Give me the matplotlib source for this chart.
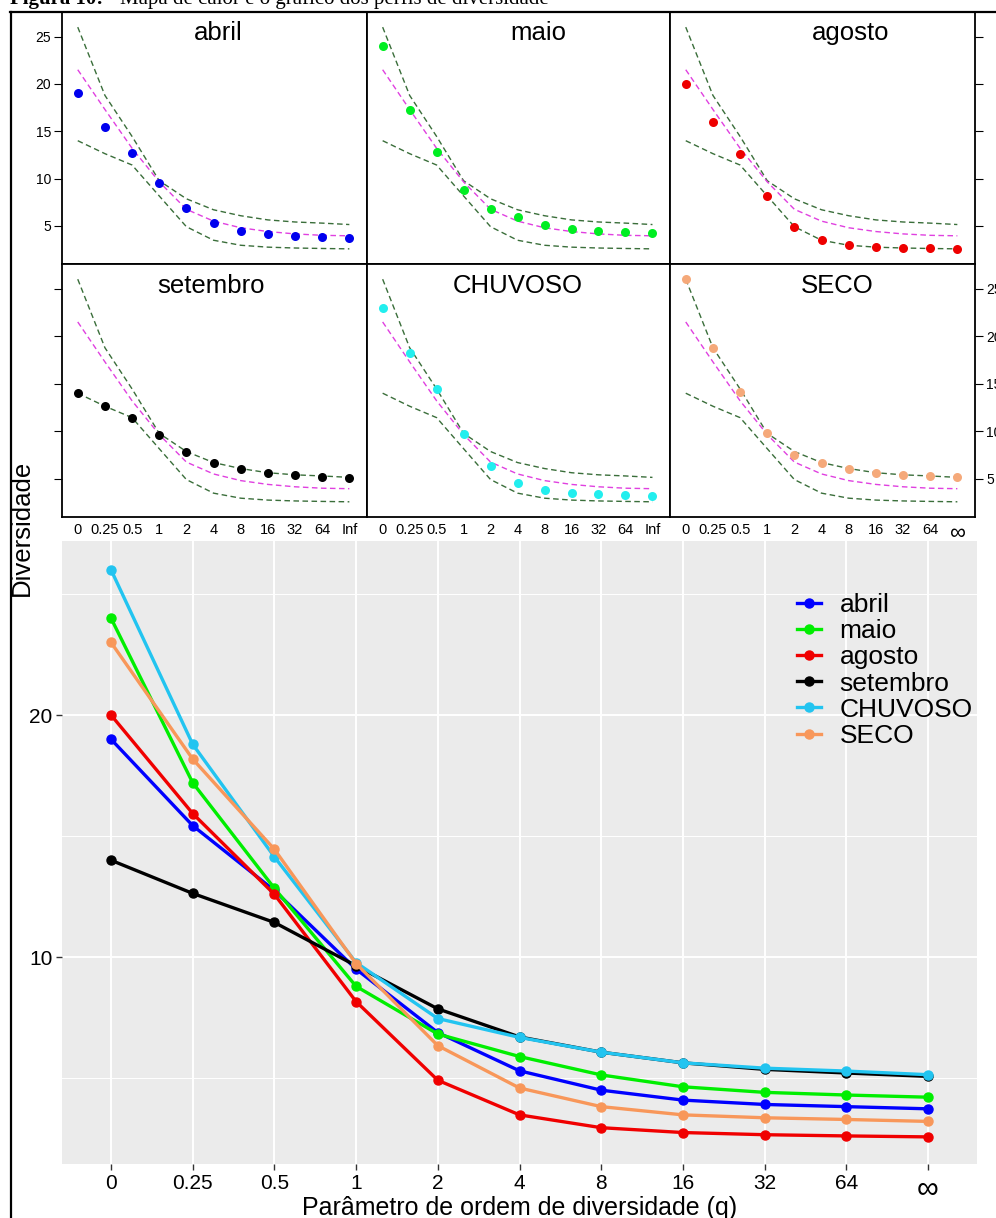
import matplotlib
matplotlib.use("Agg")
import matplotlib.pyplot as plt
from matplotlib.lines import Line2D

W, H = 996, 1218

q_labels = ["0", "0.25", "0.5", "1", "2", "4", "8", "16", "32", "64", "Inf"]
q_labels_inf = ["0", "0.25", "0.5", "1", "2", "4", "8", "16", "32", "64", "\u221e"]

abril = [19.0, 15.43, 12.75, 9.50, 6.88, 5.30, 4.50, 4.09, 3.91, 3.82, 3.73]
maio = [24.0, 17.20, 12.84, 8.79, 6.82, 5.89, 5.13, 4.64, 4.41, 4.30, 4.21]
agosto = [20.0, 15.93, 12.59, 8.16, 4.91, 3.48, 2.95, 2.75, 2.66, 2.61, 2.57]
setembro = [14.0, 12.63, 11.43, 9.64, 7.86, 6.70, 6.07, 5.63, 5.36, 5.21, 5.07]
chuvoso = [26.0, 18.79, 14.14, 9.77, 7.46, 6.68, 6.07, 5.63, 5.41, 5.29, 5.14]
seco = [23.0, 18.18, 14.45, 9.73, 6.34, 4.59, 3.82, 3.48, 3.36, 3.29, 3.21]

# linhas tracejadas dos paineis (envelope e linha magenta)
env_sup = [26.0, 18.79, 14.45, 9.77, 7.86, 6.70, 6.07, 5.63, 5.41, 5.29, 5.14]
env_inf = [14.0, 12.63, 11.43, 8.16, 4.91, 3.48, 2.95, 2.75, 2.66, 2.61, 2.57]
magenta = [21.5, 17.3, 13.2, 9.65, 6.75, 5.5, 4.8, 4.4, 4.15, 4.0, 3.95]

nomes = ["abril", "maio", "agosto", "setembro", "CHUVOSO", "SECO"]
cores_gg = ["#0000FF", "#00EE00", "#F00000", "#000000", "#22C4F0", "#F8975A"]
series_gg = [abril, maio, agosto, setembro, chuvoso, seco]

# no painel de cima CHUVOSO e SECO aparecem trocados
series_lat = [abril, maio, agosto, setembro, seco, chuvoso]
cores_lat = ["#0000EE", "#00EE22", "#EE0000", "#000000", "#22EEEE", "#F5A97A"]
titulo_x = [218, 538, 851, 211, 518, 837]

plt.rcParams['font.family'] = ['Liberation Sans', 'DejaVu Sans']

fig = plt.figure(figsize=(W / 100, H / 100), dpi=100)


def px(x0, y0, x1, y1):
    return [x0 / W, 1 - y1 / H, (x1 - x0) / W, (y1 - y0) / H]


colx = [62, 367, 670, 975]
rowy = [12, 264, 517]
xs = list(range(len(q_labels)))

for i in range(6):
    r, c = divmod(i, 3)
    ax = fig.add_axes(px(colx[c], rowy[r], colx[c + 1], rowy[r + 1]))
    ax.plot(xs, env_sup, color="#3A6E3A", lw=1.0, dashes=(4, 2.5))
    ax.plot(xs, env_inf, color="#3A6E3A", lw=1.0, dashes=(4, 2.5))
    ax.plot(xs, magenta, color="#E040E0", lw=1.0, dashes=(4, 2.5))
    ax.plot(xs, series_lat[i], "o", color=cores_lat[i], ms=6.5, mec="none")
    ax.set_xlim(-0.58, 10.65)
    ax.set_ylim(0.97, 27.6)
    ax.set_yticks([5, 10, 15, 20, 25])
    for s in ax.spines.values():
        s.set_linewidth(1.3)
    fx = (titulo_x[i] - colx[c]) / (colx[c + 1] - colx[c])
    ax.text(fx, 0.915, nomes[i], transform=ax.transAxes, ha="center",
            va="center", fontsize=18.5)
    ax.tick_params(axis="y", length=6, width=0.8, pad=2, labelsize=10,
                   left=(c == 0), right=(c == 2),
                   labelleft=(r == 0 and c == 0),
                   labelright=(r == 1 and c == 2))
    if r == 1:
        labs = q_labels_inf if c == 2 else q_labels
        ax.set_xticks(xs)
        ax.set_xticklabels(labs)
        ax.tick_params(axis="x", length=0, pad=4, labelsize=10.5)
        if c == 2:
            ax.get_xticklabels()[-1].set_fontsize(16)
    else:
        ax.set_xticks([])

# grafico de baixo, estilo ggplot
gx = fig.add_axes(px(62, 541, 977, 1164))
gx.set_facecolor("#EBEBEB")
for s in gx.spines.values():
    s.set_visible(False)
gx.set_xlim(-0.6, 10.6)
gx.set_ylim(1.45, 27.19)
gx.set_xticks(xs)
gx.set_xticklabels(q_labels_inf)
gx.set_yticks([10, 20])
gx.set_yticks([5, 15, 25], minor=True)
gx.grid(True, which="major", color="white", lw=1.4)
gx.grid(True, which="minor", axis="y", color="white", lw=0.7)
gx.set_axisbelow(True)
gx.tick_params(axis="both", which="major", length=4, width=1, color="#333333",
               labelsize=15, labelcolor="black", pad=3)
gx.tick_params(axis="y", which="minor", length=0)
gx.get_xticklabels()[-1].set_fontsize(22)
for nome, cor, vals in zip(nomes, cores_gg, series_gg):
    gx.plot(xs, vals, "-o", color=cor, lw=2.4, ms=6.5, label=nome)
gx.legend(loc="upper left", bbox_to_anchor=(784 / W, 1 - 580 / H),
          bbox_transform=fig.transFigure, frameon=False, fontsize=19,
          handlelength=0.9, handletextpad=0.7, labelspacing=0.08,
          borderpad=0.0)

fig.text(520 / W, 1 - 1208 / H, "Par\u00e2metro de ordem de diversidade (q)",
         ha="center", va="center", fontsize=18)
fig.text(22 / W, 1 - 528 / H, "Diversidade", rotation=90, ha="center",
         va="center", fontsize=18.5)

# legenda da figura (cortada no topo) e moldura
fig.text(10 / W, 1 - 4 / H, "Figura 10:", ha="left", va="baseline",
         fontsize=15, fontweight="bold", family=["Liberation Serif"])
fig.text(120 / W, 1 - 4 / H, "Mapa de calor e o gr\u00e1fico dos perfis de diversidade",
         ha="left", va="baseline", fontsize=15, family=["Liberation Serif"])
fig.add_artist(Line2D([10 / W, 1], [1 - 12 / H, 1 - 12 / H], color="black",
                      lw=1.6, transform=fig.transFigure))
fig.add_artist(Line2D([11 / W, 11 / W], [0, 1 - 12 / H], color="black",
                      lw=1.6, transform=fig.transFigure))

fig.savefig("out.png", dpi=100)
